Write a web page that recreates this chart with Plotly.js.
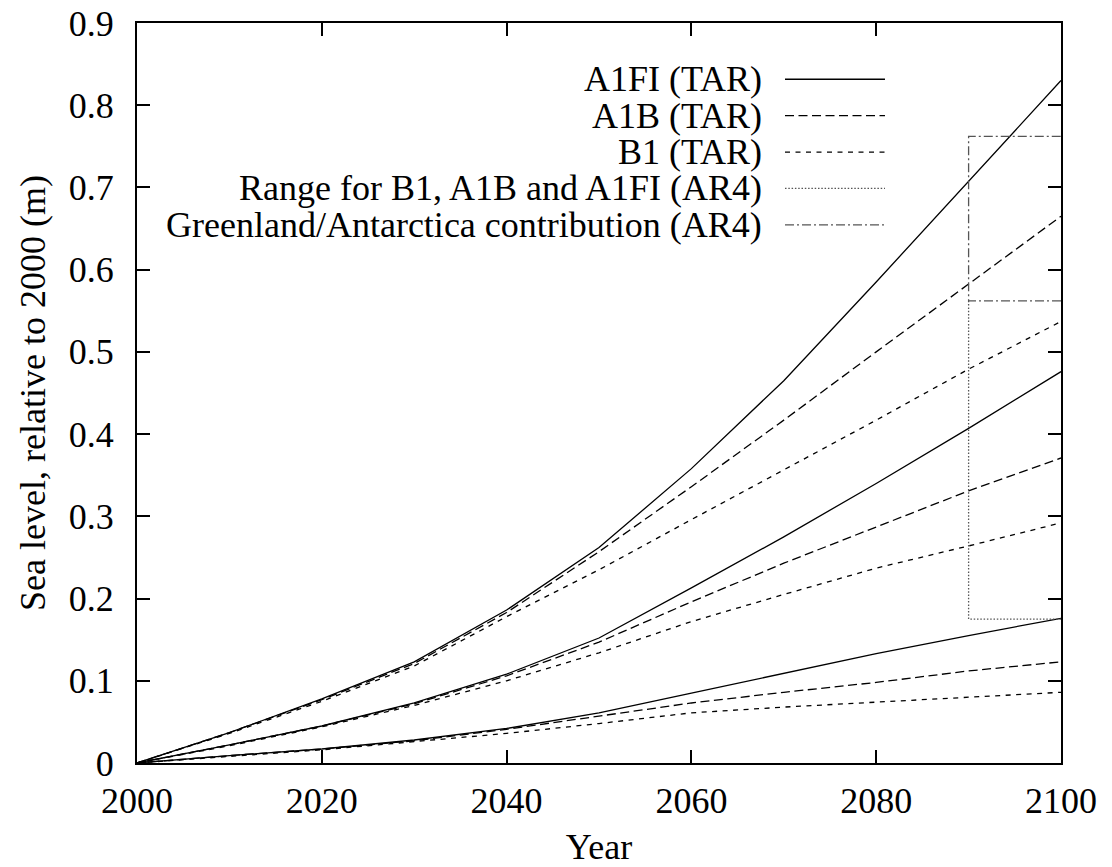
<!DOCTYPE html>
<html>
<head>
<meta charset="utf-8">
<script src="https://cdn.plot.ly/plotly-3.0.1.min.js"></script>
<style>
  html, body { margin: 0; padding: 0; background: #fff; }
  #chart { width: 1112px; height: 867px; }
</style>
</head>
<body>
<div id="chart"></div>
<script>
// Projected sea-level rise (m, relative to 2000), one value per decade.
const years = [2000, 2010, 2020, 2030, 2040, 2050, 2060, 2070, 2080, 2090, 2100];

// Upper bound of each TAR scenario
const a1fiHigh = [0, 0.037, 0.078, 0.123, 0.186, 0.262, 0.358, 0.465, 0.585, 0.707, 0.830];
const a1bHigh  = [0, 0.037, 0.077, 0.121, 0.183, 0.257, 0.336, 0.417, 0.500, 0.583, 0.665];
const b1High   = [0, 0.036, 0.075, 0.118, 0.178, 0.235, 0.296, 0.356, 0.417, 0.479, 0.537];

// Central estimate of each TAR scenario
const a1fiMid = [0, 0.022, 0.045, 0.073, 0.108, 0.152, 0.213, 0.275, 0.340, 0.407, 0.476];
const a1bMid  = [0, 0.022, 0.045, 0.072, 0.106, 0.147, 0.196, 0.243, 0.287, 0.331, 0.371];
const b1Mid   = [0, 0.021, 0.044, 0.070, 0.100, 0.134, 0.172, 0.205, 0.237, 0.264, 0.292];

// Lower bound of each TAR scenario
const a1fiLow = [0, 0.009, 0.017, 0.028, 0.042, 0.061, 0.085, 0.109, 0.133, 0.155, 0.176];
const a1bLow  = [0, 0.009, 0.017, 0.027, 0.041, 0.057, 0.073, 0.086, 0.098, 0.112, 0.123];
const b1Low   = [0, 0.008, 0.016, 0.026, 0.036, 0.048, 0.061, 0.068, 0.074, 0.080, 0.086];

// AR4 range for 2090-2100 and the extra ice-sheet contribution
const ar4Years = [2090, 2100];
const ar4Low = 0.175;
const ar4High = 0.562;
const iceHigh = 0.762;

const legendLabels = [
  "A1FI (TAR)",
  "A1B (TAR)",
  "B1 (TAR)",
  "Range for B1, A1B and A1FI (AR4)",
  "Greenland/Antarctica contribution (AR4)"
];

const FONT = "Liberation Serif, Times New Roman, serif";
const FS = 36;
const BLACK = "#000000";
const GREY = "#555555";
const DASH_A1FI = "solid";
const DASH_A1B = "9px,4.5px";
const DASH_B1 = "5px,5.5px";
const DASH_RANGE = "1.5px,1.8px";
const DASH_ICE = "9px,3px,2px,3px";

function line(y, dash) {
  return {
    x: years, y: y, type: "scatter", mode: "lines",
    line: { color: BLACK, width: 1.3, dash: dash },
    hoverinfo: "skip", showlegend: false
  };
}

const traces = [
  line(a1fiHigh, DASH_A1FI), line(a1bHigh, DASH_A1B), line(b1High, DASH_B1),
  line(a1fiMid, DASH_A1FI),  line(a1bMid, DASH_A1B),  line(b1Mid, DASH_B1),
  line(a1fiLow, DASH_A1FI),  line(a1bLow, DASH_A1B),  line(b1Low, DASH_B1),
  {
    // AR4 model range: bottom edge and left side of the box
    x: [ar4Years[1], ar4Years[0], ar4Years[0]],
    y: [ar4Low, ar4Low, ar4High],
    type: "scatter", mode: "lines",
    line: { color: GREY, width: 1.3, dash: DASH_RANGE },
    hoverinfo: "skip", showlegend: false
  },
  {
    // Additional ice-sheet contribution stacked on top of the range
    x: [ar4Years[1], ar4Years[0], ar4Years[0], ar4Years[1]],
    y: [ar4High, ar4High, iceHigh, iceHigh],
    type: "scatter", mode: "lines",
    line: { color: GREY, width: 1.3, dash: DASH_ICE },
    hoverinfo: "skip", showlegend: false
  }
];

// Key in the upper part of the plot: right-aligned text, sample line to its right
const keyDashes = [DASH_A1FI, DASH_A1B, DASH_B1, DASH_RANGE, DASH_ICE];
const keyColors = [BLACK, BLACK, BLACK, GREY, GREY];
const keyTop = 0.924, keyStep = 0.0492;
const annotations = [];
const shapes = [];
legendLabels.forEach((label, i) => {
  const yy = keyTop - i * keyStep;
  annotations.push({
    xref: "paper", yref: "paper", x: 0.677, y: yy,
    xanchor: "right", yanchor: "middle", showarrow: false, borderpad: 0,
    text: label, font: { family: FONT, size: FS, color: BLACK }
  });
  shapes.push({
    type: "line", xref: "paper", yref: "paper",
    x0: 0.7013, x1: 0.8095, y0: yy, y1: yy,
    line: { color: keyColors[i], width: 1.3, dash: keyDashes[i] }
  });
});

const axisCommon = {
  showline: true, linecolor: BLACK, linewidth: 2, mirror: "ticks",
  ticks: "inside", ticklen: 13, tickwidth: 2, tickcolor: BLACK,
  showgrid: false, zeroline: false,
  tickfont: { family: FONT, size: FS, color: BLACK }
};

const layout = {
  width: 1112, height: 867,
  margin: { l: 137, r: 51, t: 23, b: 104 },
  paper_bgcolor: "#ffffff", plot_bgcolor: "#ffffff",
  showlegend: false,
  font: { family: FONT, size: FS, color: BLACK },
  xaxis: Object.assign({}, axisCommon, {
    range: [2000, 2100], tickvals: [2000, 2020, 2040, 2060, 2080, 2100],
    ticklabelstandoff: 5,
    title: { text: "Year", font: { family: FONT, size: FS, color: BLACK }, standoff: 19 }
  }),
  yaxis: Object.assign({}, axisCommon, {
    range: [0, 0.9], tickvals: [0, 0.1, 0.2, 0.3, 0.4, 0.5, 0.6, 0.7, 0.8, 0.9],
    ticktext: ["0", "0.1", "0.2", "0.3", "0.4", "0.5", "0.6", "0.7", "0.8", "0.9"],
    ticklabelstandoff: 14,
    title: { text: "Sea level, relative to 2000 (m)", font: { family: FONT, size: FS, color: BLACK }, standoff: 12 }
  }),
  annotations: annotations,
  shapes: shapes
};

Plotly.newPlot("chart", traces, layout, { displayModeBar: false, staticPlot: true });
</script>
</body>
</html>
